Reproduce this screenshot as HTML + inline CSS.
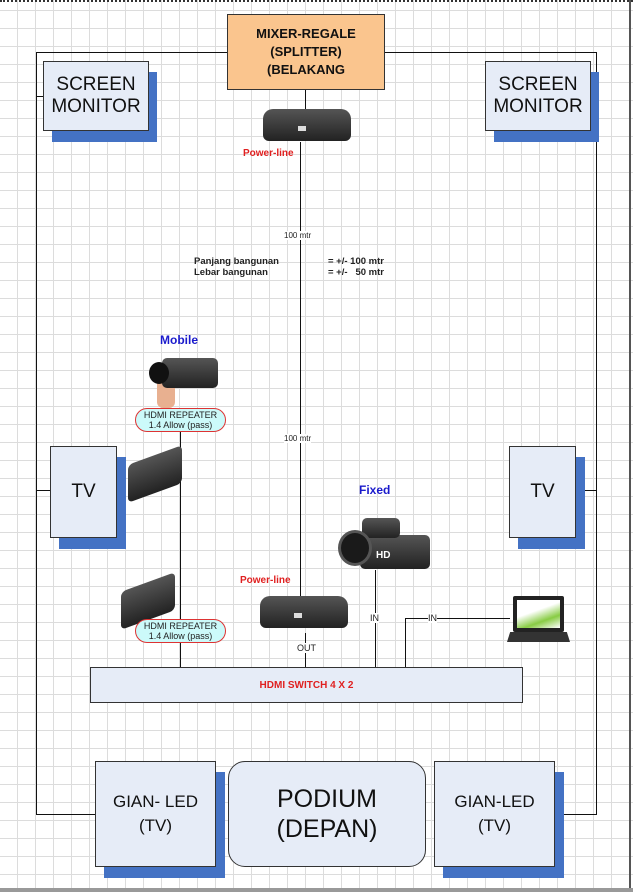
<!DOCTYPE html>
<html><head><meta charset="utf-8"><style>
body{margin:0;width:633px;height:892px;overflow:hidden;font-family:"Liberation Sans",sans-serif;position:relative;
background-color:#fff;
background-image:repeating-linear-gradient(90deg,transparent 0 17px,#dcdcdc 17px 18px),repeating-linear-gradient(0deg,transparent 0 17px,#dcdcdc 17px 18px);}
.a{position:absolute}
.box{position:absolute;background:#e6ecf7;border:1.5px solid #333;box-sizing:border-box;display:flex;align-items:center;justify-content:center;text-align:center;color:#111}
.sh{position:absolute;background:#4472c4}
.l{position:absolute;background:#111}
.t{position:absolute;font-size:9px;color:#222;white-space:nowrap}
.rep{position:absolute;width:91px;height:24px;border:1.5px solid #d33;border-radius:12px;background:#ccfafa;box-sizing:border-box;font-size:9px;line-height:10px;text-align:center;color:#222;padding-top:1px}
.dev{position:absolute;background:linear-gradient(#555,#222);border-radius:5px}
</style></head><body>
<div class="a" style="left:0;top:0;width:633px;height:2px;border-top:2px dotted #333"></div>
<div class="l" style="left:629px;top:0;width:2px;height:892px;background:#555"></div>
<div class="a" style="left:0;top:888px;width:633px;height:4px;background:#999"></div>

<div class="l" style="left:36px;top:52px;width:192px;height:1px"></div>
<div class="l" style="left:384px;top:52px;width:213px;height:1px"></div>
<div class="l" style="left:36px;top:52px;width:1px;height:763px"></div>
<div class="l" style="left:596px;top:52px;width:1px;height:763px"></div>
<div class="l" style="left:36px;top:814px;width:60px;height:1px"></div>
<div class="l" style="left:554px;top:814px;width:43px;height:1px"></div>
<div class="l" style="left:36px;top:490px;width:14px;height:1px"></div>
<div class="l" style="left:575px;top:490px;width:22px;height:1px"></div>
<div class="l" style="left:36px;top:96px;width:7px;height:1px"></div>

<div class="box" style="left:227px;top:14px;width:158px;height:76px;background:#fac58e;font-weight:bold;font-size:13px;line-height:18px">MIXER-REGALE<br>(SPLITTER)<br>(BELAKANG</div>
<div class="l" style="left:305px;top:90px;width:1px;height:20px"></div>

<div class="sh" style="left:52px;top:72px;width:105px;height:70px"></div>
<div class="box" style="left:43px;top:61px;width:106px;height:70px;font-size:19px;line-height:22px">SCREEN<br>MONITOR</div>
<div class="sh" style="left:494px;top:72px;width:105px;height:70px"></div>
<div class="box" style="left:485px;top:61px;width:106px;height:70px;font-size:19px;line-height:22px">SCREEN<br>MONITOR</div>

<div class="dev" style="left:263px;top:109px;width:88px;height:32px;border-radius:10px 10px 6px 6px"></div>
<div class="a" style="left:298px;top:126px;width:8px;height:5px;background:#ddd"></div>
<div class="l" style="left:300px;top:142px;width:1px;height:455px"></div>
<div class="t" style="left:243px;top:148px;color:#e02020;font-weight:bold;font-size:10px">Power-line</div>
<div class="t" style="left:284px;top:231px;background:#fff;font-size:8px">100 mtr</div>
<div class="t" style="left:194px;top:256px;font-weight:bold;line-height:11px;font-size:9.5px">Panjang bangunan<br>Lebar bangunan</div>
<div class="t" style="left:328px;top:256px;font-weight:bold;line-height:11px;font-size:9.5px">= +/- 100 mtr<br>= +/-&nbsp;&nbsp; 50 mtr</div>
<div class="t" style="left:284px;top:434px;background:#fff;font-size:8px">100 mtr</div>

<div class="t" style="left:160px;top:333px;color:#1a1acc;font-weight:bold;font-size:12px">Mobile</div>
<div class="a" style="left:157px;top:368px;width:18px;height:40px;background:#e8b090;border-radius:6px"></div>
<div class="dev" style="left:162px;top:358px;width:56px;height:30px"></div>
<div class="a" style="left:149px;top:362px;width:20px;height:22px;background:#111;border-radius:50%"></div>
<div class="rep" style="left:135px;top:408px">HDMI REPEATER<br>1.4 Allow (pass)</div>
<div class="l" style="left:180px;top:432px;width:1px;height:235px"></div>
<div class="dev" style="left:128px;top:455px;width:54px;height:38px;transform:skewY(-20deg)"></div>
<div class="dev" style="left:121px;top:582px;width:54px;height:38px;transform:skewY(-20deg)"></div>
<div class="rep" style="left:135px;top:619px">HDMI REPEATER<br>1.4 Allow (pass)</div>

<div class="sh" style="left:59px;top:457px;width:67px;height:92px"></div>
<div class="box" style="left:50px;top:446px;width:67px;height:92px;font-size:19px">TV</div>
<div class="sh" style="left:518px;top:457px;width:67px;height:92px"></div>
<div class="box" style="left:509px;top:446px;width:67px;height:92px;font-size:19px">TV</div>

<div class="t" style="left:359px;top:483px;color:#1a1acc;font-weight:bold;font-size:12px">Fixed</div>
<div class="dev" style="left:360px;top:535px;width:70px;height:34px"></div>
<div class="dev" style="left:362px;top:518px;width:38px;height:20px"></div>
<div class="a" style="left:338px;top:530px;width:34px;height:36px;background:#1a1a1a;border-radius:50%;border:3px solid #555;box-sizing:border-box"></div>
<div class="t" style="left:376px;top:550px;color:#fff;font-weight:bold;font-size:10px">HD</div>
<div class="l" style="left:375px;top:570px;width:1px;height:97px"></div>
<div class="t" style="left:370px;top:613px;background:#fff">IN</div>

<div class="a" style="left:513px;top:596px;width:51px;height:36px;background:#222;border-radius:2px"></div>
<div class="a" style="left:517px;top:600px;width:43px;height:28px;background:linear-gradient(160deg,#fff 40%,#8c4 70%,#fff)"></div>
<div class="a" style="left:507px;top:632px;width:63px;height:10px;background:#333;clip-path:polygon(5% 0,95% 0,100% 100%,0 100%)"></div>
<div class="l" style="left:405px;top:618px;width:105px;height:1px"></div>
<div class="l" style="left:405px;top:618px;width:1px;height:49px"></div>
<div class="t" style="left:428px;top:613px;background:#fff">IN</div>

<div class="t" style="left:240px;top:575px;color:#e02020;font-weight:bold;font-size:10px">Power-line</div>
<div class="dev" style="left:260px;top:596px;width:88px;height:32px;border-radius:10px 10px 6px 6px"></div>
<div class="a" style="left:294px;top:613px;width:8px;height:5px;background:#ddd"></div>
<div class="l" style="left:305px;top:633px;width:1px;height:34px"></div>
<div class="t" style="left:297px;top:643px;background:#fff">OUT</div>

<div class="box" style="left:90px;top:667px;width:433px;height:36px;color:#e02020;font-weight:bold;font-size:10px;border-width:1px">HDMI SWITCH 4 X 2</div>

<div class="sh" style="left:104px;top:772px;width:121px;height:106px"></div>
<div class="box" style="left:95px;top:761px;width:121px;height:106px;font-size:17px;line-height:24px">GIAN- LED<br>(TV)</div>
<div class="box" style="left:228px;top:761px;width:198px;height:106px;border-radius:17px;font-size:25px;line-height:30px">PODIUM<br>(DEPAN)</div>
<div class="sh" style="left:443px;top:772px;width:121px;height:106px"></div>
<div class="box" style="left:434px;top:761px;width:121px;height:106px;font-size:17px;line-height:24px">GIAN-LED<br>(TV)</div>
</body></html>
